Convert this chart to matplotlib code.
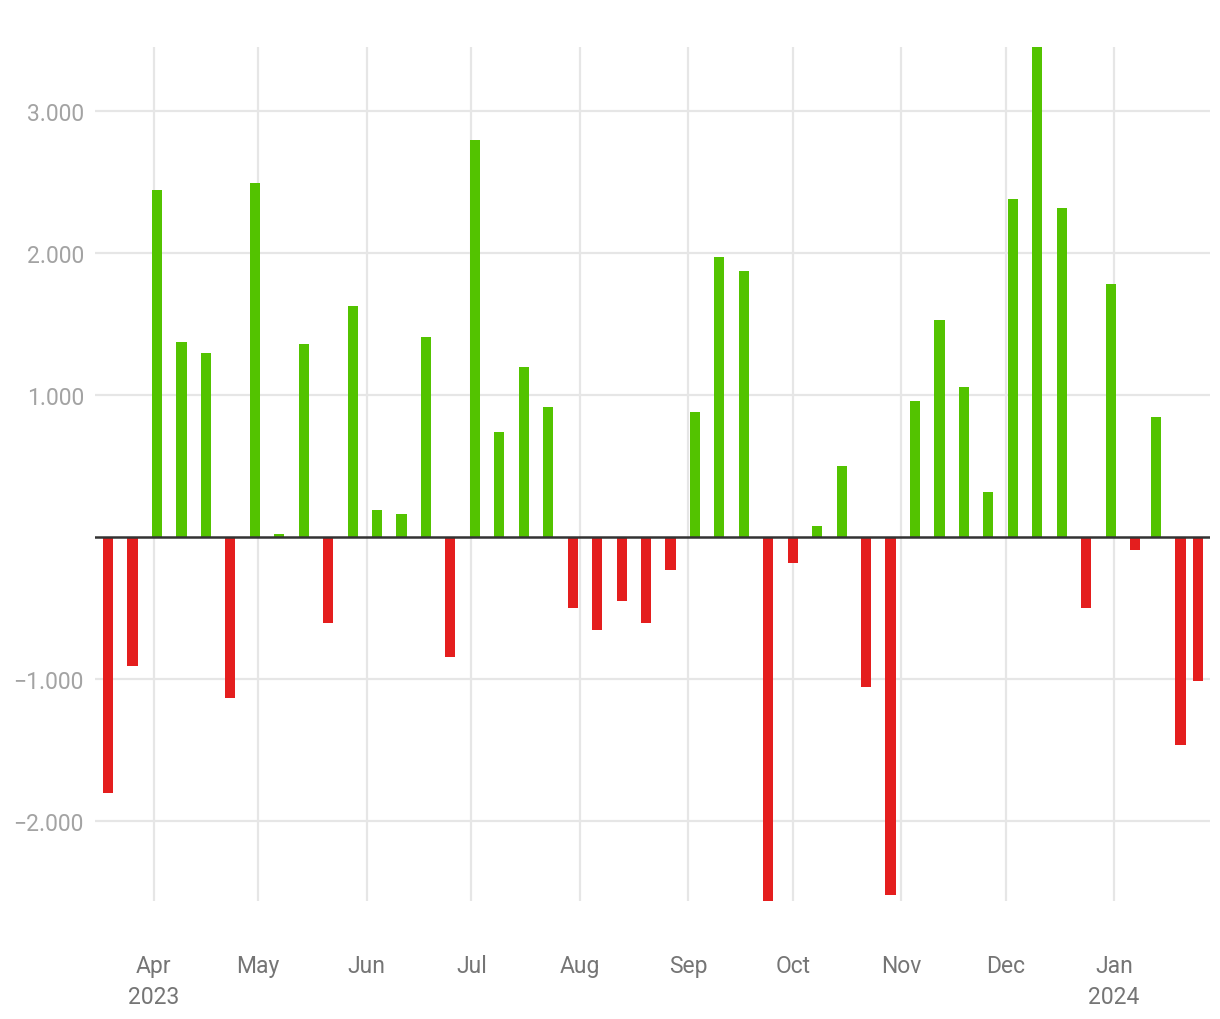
import matplotlib
matplotlib.use("Agg")
import matplotlib.pyplot as plt
import matplotlib.dates as mdates
import matplotlib.ticker as mticker
import numpy as np
import pandas as pd

plt.rcParams['font.family'] = ['Roboto', 'DejaVu Sans']

# --- data ---
weekly_start = "2023-03-19"
weekly_end = "2024-01-07"
extra_dates = ["2024-01-13", "2024-01-20", "2024-01-25"]
dates = list(pd.date_range(weekly_start, weekly_end, freq="7D")) + [pd.Timestamp(d) for d in extra_dates]

values = [
    -1800, -910, 2445, 1373, 1296, -1134, 2493, 20, 1359, -606,
    1627, 190, 162, 1408, -845, 2796, 739, 1197, 915, -500,
    -655, -451, -606, -232, 880, 1972, 1873, -2563, -183, 77,
    500, -1056, -2521, 958, 1528, 1056, 317, 2380, 3451, 2317,
    -500, 1782, -92, 845, -1465, -1014,
]

y_ticks = [-2000, -1000, 1000, 2000, 3000]

pos_color = "#53c300"
neg_color = "#e41e1e"

# --- figure ---
fig = plt.figure(figsize=(12.2, 10.2), dpi=100)
ax = fig.add_axes([95 / 1220, 1 - 902 / 1020, (1210 - 95) / 1220, (902 - 48) / 1020])

xnum = mdates.date2num(dates)
colors = [pos_color if v >= 0 else neg_color for v in values]
ax.bar(xnum, values, width=2.9, color=colors, zorder=3)

ax.set_xlim(xnum[0] - 3.75, xnum[-1] + 3.45)
ax.set_ylim(min(values), max(values))

ax.axhline(0, color="#333333", lw=1.8, zorder=4)

# y axis
ax.set_yticks(y_ticks)
def yfmt(v, pos):
    s = f"{abs(int(v)):,}".replace(",", ".")
    return ("\u2212" if v < 0 else "") + s
ax.yaxis.set_major_formatter(mticker.FuncFormatter(yfmt))
ax.tick_params(axis="y", length=0, pad=8, labelsize=16.5, labelcolor="#a3a3a3")

# x axis: month starts
month_starts = pd.date_range("2023-04-01", "2024-01-01", freq="MS")
labels = []
prev_year = None
for i, m in enumerate(month_starts):
    lab = m.strftime("%b")
    if prev_year is None or m.year != prev_year:
        lab += "\n" + str(m.year)
    prev_year = m.year
    labels.append(lab)
ax.set_xticks(mdates.date2num(list(month_starts)))
ax.set_xticklabels(labels, linespacing=1.45, va="top")
ax.tick_params(axis="x", length=0, pad=38, labelsize=16.5, labelcolor="#757575")

ax.grid(True, color="#e6e6e6", lw=1.6, zorder=0)
ax.set_axisbelow(True)
for s in ax.spines.values():
    s.set_visible(False)

fig.savefig("out.png", dpi=100, facecolor="white")
